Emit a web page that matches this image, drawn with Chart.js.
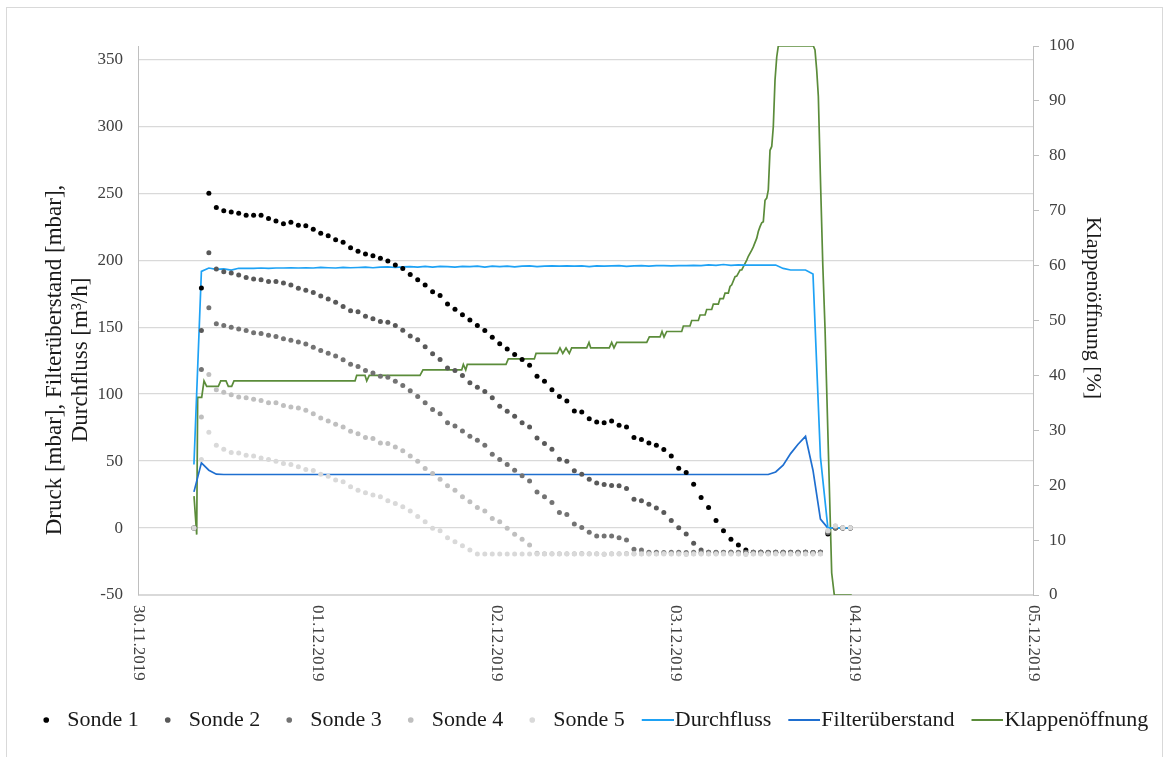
<!DOCTYPE html>
<html>
<head>
<meta charset="utf-8">
<title>Sonden, Durchfluss und Klappenöffnung</title>
<script src="https://cdn.jsdelivr.net/npm/chart.js@4.4.1/dist/chart.umd.min.js"></script>
<style>
  html, body { margin: 0; padding: 0; background: #fff; }
  #wrap { width: 1169px; height: 757px; }
</style>
</head>
<body>
<div id="wrap"><canvas id="chart" width="1169" height="757"></canvas></div>
<script>
// Time in hours since 30.11.2019 00:00, one reading per hour
var hours = [
  7.5, 8.5, 9.5, 10.5, 11.5, 12.5, 13.5, 14.5, 15.5, 16.5,
  17.5, 18.5, 19.5, 20.5, 21.5, 22.5, 23.5, 24.5, 25.5, 26.5,
  27.5, 28.5, 29.5, 30.5, 31.5, 32.5, 33.5, 34.5, 35.5, 36.5,
  37.5, 38.5, 39.5, 40.5, 41.5, 42.5, 43.5, 44.5, 45.5, 46.5,
  47.5, 48.5, 49.5, 50.5, 51.5, 52.5, 53.5, 54.5, 55.5, 56.5,
  57.5, 58.5, 59.5, 60.5, 61.5, 62.5, 63.5, 64.5, 65.5, 66.5,
  67.5, 68.5, 69.5, 70.5, 71.5, 72.5, 73.5, 74.5, 75.5, 76.5,
  77.5, 78.5, 79.5, 80.5, 81.5, 82.5, 83.5, 84.5, 85.5, 86.5,
  87.5, 88.5, 89.5, 90.5, 91.5, 92.5, 93.5, 94.5, 95.5
];

var sonde1 = [
  0, 179.3, 250, 239.3, 236.9, 236.1, 235.1, 233.6, 233.6, 233.6,
  231.1, 229.4, 227.2, 228.4, 226.2, 225.7, 223.2, 220.2, 218.2, 215.3,
  213.5, 209.3, 206.8, 204.6, 203.4, 201.4, 199.4, 196.4, 193.9, 189.4,
  185.5, 181.5, 176.5, 173.6, 167.4, 163.4, 159.3, 155.4, 151.2, 147.5,
  142.4, 137.6, 133.8, 129.6, 125.8, 121.6, 113.4, 109.6, 103.3, 98.3,
  94.8, 87.4, 86.6, 81.7, 79.2, 78.7, 79.9, 76.7, 75.5, 67.6,
  66.1, 63.5, 61.8, 58.7, 53.9, 44.6, 41.5, 32.8, 22.8, 15.4,
  5.7, -2, -8.4, -12.7, -16.4, -18.1, -18, -18.3, -18, -18.2,
  -18, -18.3, -18, -18.2, -18, -4.5, 0, 0, 0
];

var sonde2 = [
  0, 147.5, 205.6, 193.4, 191.4, 190.4, 188.9, 187.2, 186, 185.5,
  184.2, 184.2, 183, 181.5, 179, 177.5, 176, 173.3, 171.1, 168.6,
  165.4, 162.2, 161.6, 158.1, 156.4, 154.2, 153.7, 151.2, 147.7, 143.5,
  140.7, 135.4, 130.1, 125.9, 119.5, 117.7, 113.9, 108.6, 105.1, 102,
  97.4, 90.9, 87.2, 83.4, 78.7, 75.5, 67.3, 63.1, 58.8, 51.4,
  49.9, 42.7, 40.2, 36.5, 33.7, 32.5, 31.8, 31.5, 29.6, 21.6,
  20.3, 17.7, 14.9, 11.7, 5.7, 0.3, -4.5, -11.3, -16.4, -18,
  -18.2, -18, -18, -18.3, -18, -18.2, -18, -18, -18.3, -18,
  -18.2, -18, -18, -18.3, -18, -3.5, 0, 0, 0
];

var sonde3 = [
  0, 118.4, 164.5, 152.5, 151.2, 150, 148.7, 147.5, 145.8, 145.3,
  144, 143, 141.3, 140.3, 139, 137.5, 135, 132.6, 130.6, 128.4,
  125.7, 122.4, 120.7, 117.7, 115.7, 113.4, 112.7, 109.7, 106.5, 102.6,
  98.3, 93.6, 88.6, 85.4, 78.7, 76.2, 72.5, 68.5, 65.5, 61.8,
  55.1, 51.2, 47.4, 43.2, 39, 35.2, 27, 23.3, 19.1, 11.7,
  10.2, 3, 0.5, -3.2, -6, -6, -6, -7.2, -8.9, -15.9,
  -16.4, -18.1, -18, -18.2, -18, -18, -18.3, -18, -18.2, -18,
  -18, -18.3, -18, -18, -18.2, -18, -18, -18.3, -18, -18,
  -18.2, -18, -18, -18.3, -18, -3, 0, 0, 0
];

var sonde4 = [
  0, 82.9, 114.7, 103.3, 101.5, 99.6, 97.8, 97.4, 96.1, 95.3,
  93.6, 93.6, 91.6, 90.4, 89.6, 87.9, 85.4, 82.2, 79.9, 77.5,
  75.5, 72.3, 70.5, 67.6, 66.8, 63.5, 63.1, 60.6, 57.8, 53.9,
  49.9, 44.5, 40.7, 36.5, 31.5, 28.3, 23.3, 19.6, 15.4, 12.7,
  7.2, 4.7, -0.2, -4.7, -8.4, -12.7, -18.8, -19.2, -19.2, -19.2,
  -19.2, -19.2, -19, -19.2, -19.2, -19.6, -19.2, -19.2, -19, -19.2,
  -19.2, -19.2, -19.2, -19, -19.2, -19.2, -19.6, -19.2, -19.2, -19.2,
  -19.2, -19, -19.2, -19.2, -19.6, -19.2, -19.2, -19.2, -19, -19.2,
  -19.2, -19.2, -19.2, -19.2, -19.2, -2, 1.5, 0.2, 0.2
];

var sonde5 = [
  0, 51.1, 71.5, 61.8, 58.8, 56.4, 56.1, 54.4, 53.9, 52.4,
  51.2, 49.9, 48.2, 47.4, 45.7, 43.7, 43, 40.2, 38.7, 35.8,
  34.5, 30.8, 28.3, 26.3, 24.6, 23.3, 20.3, 18.4, 15.9, 12.8,
  8.6, 4.7, -0.2, -2, -7.2, -10.2, -13.2, -16.4, -19.4, -19.4,
  -19.4, -19.4, -19.4, -19.4, -19.4, -19.4, -19.4, -19.4, -19.4, -19.4,
  -19.4, -19.4, -19.4, -19.4, -19.4, -19.4, -19.4, -19.4, -19.4, -19.4,
  -19.4, -19.4, -19.4, -19.4, -19.4, -19.4, -19.4, -19.4, -19.4, -19.4,
  -19.4, -19.4, -19.4, -19.4, -19.4, -19.4, -19.4, -19.4, -19.4, -19.4,
  -19.4, -19.4, -19.4, -19.4, -19.4, -2, 1.5, 0.2, 0.2
];

var durchfluss = [
  47.5, 191.7, 194.2, 193.2, 193.6, 192.6, 194, 194, 194, 194.2,
  194, 194.2, 194.2, 194.4, 194.2, 194.4, 194.2, 194.6, 194.4, 194.2,
  194.6, 194.4, 194.6, 194.8, 194.4, 194.8, 195, 194.6, 195, 195.2,
  194.8, 195.4, 194.8, 195.4, 195.2, 194.8, 195.4, 195.2, 195.6, 194.8,
  195.6, 195.2, 195.6, 195, 195.6, 195.8, 195.2, 195.6, 195.8, 195.6,
  195.8, 195.6, 195.8, 195.2, 195.8, 195.6, 195.8, 196, 195.4, 195.8,
  196, 195.6, 196, 196, 195.8, 196, 196, 196.2, 196, 196.6,
  196.2, 196.8, 196.2, 196.6, 196.4, 196.4, 196.4, 196.4, 196.4, 193.9,
  192.7, 192.7, 192.7, 189.7, 53, 0, 0, 0, 0
];

var filterueberstand = [
  27, 48.7, 43.2, 40.2, 40, 40, 40, 40, 40, 40,
  40, 40, 40, 40, 40, 40, 40, 40, 40, 40,
  40, 40, 40, 40, 40, 40, 40, 40, 40, 40,
  40, 40, 40, 40, 40, 40, 40, 40, 40, 40,
  40, 40, 40, 40, 40, 40, 40, 40, 40, 40,
  40, 40, 40, 40, 40, 40, 40, 40, 40, 40,
  40, 40, 40, 40, 40, 40, 40, 40, 40, 40,
  40, 40, 40, 40, 40, 40, 40, 40, 41.9, 46.9,
  55.6, 62.6, 68.5, 43.2, 6.7, 0, 0, 0, 0
];

// Klappenöffnung is logged more often, so it has its own time list
var klappeHours = [
  7.51, 7.87, 8.00, 8.54, 8.85, 9.21, 10.77, 11.09, 11.80, 12.11,
  12.56, 12.87, 29.10, 29.32, 30.44, 30.67, 31.01, 37.81, 38.21, 43.40,
  43.62, 43.94, 44.15, 49.34, 49.65, 53.14, 53.37, 56.22, 56.58, 56.95,
  57.39, 57.83, 58.15, 60.16, 60.47, 60.70, 63.19, 63.51, 63.82, 64.19,
  68.21, 68.56, 69.99, 70.26, 70.53, 70.89, 72.90, 73.12, 74.01, 74.24,
  75.13, 75.36, 76.03, 76.25, 76.92, 77.14, 77.81, 78.04, 78.48, 78.71,
  79.15, 79.38, 79.61, 80.05, 80.28, 80.72, 80.95, 81.17, 81.62, 81.83,
  82.29, 82.50, 82.96, 83.17, 83.40, 83.63, 83.84, 84.07, 84.30, 84.51,
  84.74, 84.97, 85.18, 85.41, 85.64, 85.85, 90.55, 90.77, 91.00, 91.22,
  91.54, 91.81, 92.12, 92.56, 93.01, 93.36, 95.70
];
var klappe = [
  18, 11, 36, 36, 39, 38, 38, 39, 39, 38,
  38, 39, 39, 40, 40, 39, 40, 40, 41, 41,
  42, 41, 42, 42, 43, 43, 44, 44, 45, 44,
  45, 44, 45, 45, 46, 45, 45, 46, 45, 46,
  46, 47, 47, 48, 47, 48, 48, 49, 49, 50,
  50, 51, 51, 52, 52, 53, 53, 54, 54, 55,
  55, 56.2, 56.5, 58, 58.1, 59.2, 59.2, 59.8, 61, 61.7,
  62.8, 63.4, 65, 66.2, 67.1, 67.8, 68, 71.9, 72.3, 73.8,
  81, 81.7, 85.3, 93.8, 98, 100, 100, 99.3, 95.6, 90.8,
  73.8, 60.4, 48.3, 26.4, 4, 0, 0
];

var dayTicks = [0, 24, 48, 72, 96, 120];
var dayLabels = ['30.11.2019', '01.12.2019', '02.12.2019', '03.12.2019', '04.12.2019', '05.12.2019'];
var leftTicks = [-50, 0, 50, 100, 150, 200, 250, 300, 350];

var leftTitle = ['Druck [mbar], Filterüberstand [mbar],', 'Durchfluss [m³/h]'];
var rightTitle = 'Klappenöffnung [%]';

var FONT = '"Liberation Serif", "Times New Roman", serif';
Chart.defaults.font.family = FONT;

function toPoints(xs, ys) {
  return xs.map(function (x, i) { return { x: x, y: ys[i] }; });
}

// legend marker for the line series: a short stroke sitting right before the text
function legendLine(color) {
  var c = document.createElement('canvas');
  c.width = 40;
  c.height = 2;
  var g = c.getContext('2d');
  g.fillStyle = color;
  g.fillRect(8, 0, 32, 2);
  return c;
}

function sondeSet(label, values, color, order) {
  return {
    label: label,
    data: toPoints(hours, values),
    showLine: false,
    backgroundColor: color,
    borderColor: color,
    borderWidth: 0,
    pointRadius: 2.5,
    pointBorderWidth: 0,
    pointStyle: 'circle',
    yAxisID: 'y',
    order: order
  };
}

function lineSet(label, xs, values, color, axis, order) {
  return {
    label: label,
    data: toPoints(xs, values),
    showLine: true,
    borderColor: color,
    backgroundColor: color,
    borderWidth: 1.7,
    pointRadius: 0,
    pointStyle: legendLine(color),
    fill: false,
    tension: 0,
    yAxisID: axis,
    order: order
  };
}

var axisText = {
  id: 'axisText',
  afterDraw: function (chart) {
    var ctx = chart.ctx;
    var xs = chart.scales.x;
    ctx.save();

    // date labels, turned to read downwards
    ctx.font = '17px ' + FONT;
    ctx.fillStyle = '#404040';
    ctx.textAlign = 'left';
    ctx.textBaseline = 'middle';
    dayTicks.forEach(function (v, i) {
      ctx.save();
      ctx.translate(xs.getPixelForValue(v), xs.top + 10);
      ctx.rotate(Math.PI / 2);
      ctx.fillText(dayLabels[i], 0, 0);
      ctx.restore();
    });

    ctx.fillStyle = '#1a1a1a';
    ctx.textAlign = 'center';
    ctx.font = '23px ' + FONT;
    ctx.save();
    ctx.translate(0, 360);
    ctx.rotate(-Math.PI / 2);
    ctx.fillText(leftTitle[0], 0, 55);
    ctx.fillText(leftTitle[1], 0, 81);
    ctx.restore();

    ctx.font = '22px ' + FONT;
    ctx.save();
    ctx.translate(1093, 308);
    ctx.rotate(Math.PI / 2);
    ctx.fillText(rightTitle, 0, 0);
    ctx.restore();

    // chart frame
    ctx.strokeStyle = '#d9d9d9';
    ctx.lineWidth = 1;
    ctx.strokeRect(6.5, 7.5, 1156, 800);
    ctx.restore();
  }
};

var tickFont = { family: FONT, size: 17 };

new Chart(document.getElementById('chart'), {
  type: 'scatter',
  data: {
    datasets: [
      sondeSet('Sonde 1', sonde1, '#000000', 5),
      sondeSet('Sonde 2', sonde2, '#595959', 4),
      sondeSet('Sonde 3', sonde3, '#737373', 3),
      sondeSet('Sonde 4', sonde4, '#bfbfbf', 2),
      sondeSet('Sonde 5', sonde5, '#d9d9d9', 1),
      lineSet('Durchfluss', hours, durchfluss, '#1ea2f5', 'y', 6),
      lineSet('Filterüberstand', hours, filterueberstand, '#1f6fd0', 'y', 7),
      lineSet('Klappenöffnung', klappeHours, klappe, '#5b8c3a', 'y1', 8)
    ]
  },
  options: {
    responsive: false,
    animation: false,
    devicePixelRatio: 1,
    layout: { padding: { top: 46, left: 15.5, right: 0, bottom: 16 } },
    scales: {
      x: {
        type: 'linear',
        min: 0,
        max: 120,
        ticks: { stepSize: 24, display: false },
        grid: { display: false },
        border: { display: true, color: '#d9d9d9' },
        afterFit: function (s) { s.height = 95; }
      },
      y: {
        position: 'left',
        min: -50,
        max: 360,
        ticks: { font: tickFont, color: '#404040', padding: 15 },
        grid: { color: '#d9d9d9', lineWidth: 1.3, drawTicks: false },
        border: { display: true, color: '#bfbfbf' },
        afterBuildTicks: function (s) {
          s.ticks = leftTicks.map(function (v) { return { value: v }; });
        },
        afterFit: function (s) { s.width = 122.5; }
      },
      y1: {
        position: 'right',
        min: 0,
        max: 100,
        ticks: { stepSize: 10, font: tickFont, color: '#404040', padding: 10 },
        grid: { drawOnChartArea: false, drawTicks: true, tickLength: 6, color: '#bfbfbf' },
        border: { display: true, color: '#bfbfbf' },
        afterFit: function (s) { s.width = 136; }
      }
    },
    plugins: {
      legend: {
        position: 'bottom',
        labels: {
          usePointStyle: true,
          boxWidth: 20,
          boxHeight: 4,
          padding: 19,
          color: '#1a1a1a',
          font: { family: FONT, size: 22 },
          sort: function (a, b) { return a.datasetIndex - b.datasetIndex; }
        }
      },
      tooltip: { enabled: false }
    }
  },
  plugins: [axisText]
});
</script>
</body>
</html>
